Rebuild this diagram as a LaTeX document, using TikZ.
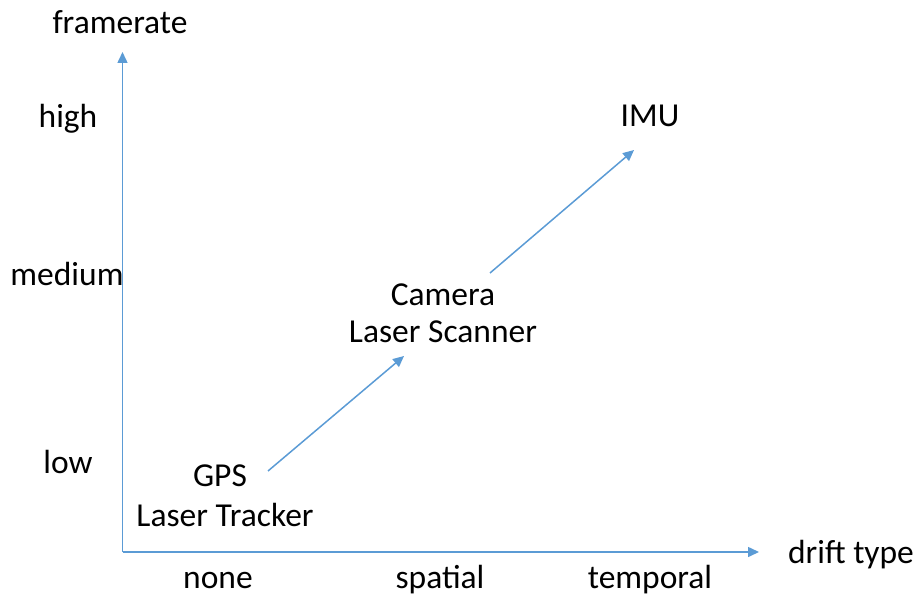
\documentclass[tikz,border=0pt]{standalone}
\usepackage{fontspec}
\setmainfont{Carlito}
\usetikzlibrary{arrows.meta}
\definecolor{axisblue}{HTML}{5B9BD5}
\begin{document}
\begin{tikzpicture}[x=1pt,y=-1pt,
  lbl/.style={inner sep=0pt,anchor=base,font=\fontsize{33.5}{40}\selectfont,text=black},
  conn/.style={draw=axisblue,line width=1.5pt,-{Triangle[length=11pt,width=10pt]}}]
\useasboundingbox (0,0) rectangle (917,596);
\coordinate (origin) at (122.5,552);
\coordinate (ytip) at (122.5,52);
\coordinate (xtip) at (759,552);
\coordinate (a1s) at (268,471);
\coordinate (a1e) at (404,356);
\coordinate (a2s) at (490,273);
\coordinate (a2e) at (634,150);
\draw[conn] (origin) -- (ytip);
\draw[conn] (origin) -- (xtip);
\draw[conn] (a1s) -- (a1e);
\draw[conn] (a2s) -- (a2e);
\node[lbl] (framerate) at (120,34) {framerate};
\node[lbl] (high) at (68,128) {high};
\node[lbl] (medium) at (67,285) {medium};
\node[lbl] (low) at (68,473) {low};
\node[lbl] (none) at (218,588) {none};
\node[lbl] (spatial) at (440,588) {spatial};
\node[lbl] (temporal) at (650,588) {temporal};
\node[lbl] (drift) at (851,563) {drift type};
\node[lbl] (imu) at (650,127) {IMU};
\node[lbl] (camera) at (443,305) {Camera};
\node[lbl] (scanner) at (443,342) {Laser Scanner};
\node[lbl] (gps) at (220,486) {GPS};
\node[lbl] (tracker) at (225,526) {Laser Tracker};
\end{tikzpicture}
\end{document}
